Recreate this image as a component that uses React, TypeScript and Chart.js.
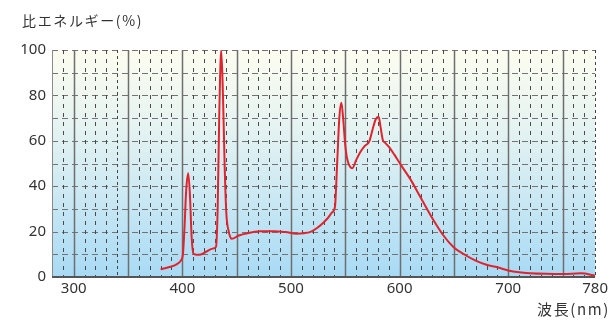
import { useEffect, useRef } from "react";
import { Chart, registerables } from "chart.js";

Chart.register(...registerables);

// ---- data ----
const wavelengths = [380, 389, 395, 398.5, 400.5, 402, 403.5, 405.4, 407, 408.5, 410.2, 413, 417, 422, 428, 431, 432.5, 434, 435.8, 437.5, 439, 440.5, 442.5, 445.6, 452, 460, 472, 485, 495, 505, 512, 518, 524, 529, 534, 538, 540.5, 542.5, 544.5, 546.4, 548, 550, 552, 556.5, 560, 564, 568, 572, 575.8, 578, 580.7, 582.5, 584.5, 587, 590, 595, 601, 610, 620, 630, 640, 650, 660, 670, 680, 690, 700, 710, 720, 735, 750, 767, 780];
const energy = [3.4, 4.5, 5.7, 7.2, 10, 22, 38, 45.7, 36, 18, 10.3, 9.8, 9.9, 11.2, 12.5, 13.3, 30, 72, 100, 78, 48, 28, 20.5, 16.8, 18.3, 19.3, 20.1, 20.2, 19.8, 19.1, 19.3, 19.9, 21.6, 23.6, 26, 28.5, 31, 50, 70, 76.8, 70, 58, 51.5, 47.9, 51.5, 55.2, 57.8, 59.6, 66.2, 69.5, 70.6, 66, 60.5, 59, 57.4, 54, 49.5, 43, 34.5, 26, 18.5, 13, 9.8, 7.2, 5.4, 4.3, 2.9, 2.1, 1.7, 1.4, 1.3, 1.6, 0.6];
const xTickLabels = [300, 400, 500, 600, 700, 780];
const yTickLabels = [0, 20, 40, 60, 80, 100];
const xMin = 280;
const xMax = 780;
const yMin = 0;
const yMax = 100;
const yTitle = "比エネルギー(%)";
const xTitle = "波長(nm)";

function drawFitted(ctx: any, text: string, x: number, y: number, width: number, align: "left" | "right") {
  ctx.letterSpacing = "0px";
  const w = ctx.measureText(text).width;
  const n = Array.from(text).length;
  const sp = (width - w) / n;
  ctx.letterSpacing = sp.toFixed(2) + "px";
  ctx.textAlign = "left";
  const x0 = align === "left" ? x : x - width;
  ctx.fillText(text, x0, y);
  ctx.letterSpacing = "0px";
}

const gridPlugin = {
  id: "bgGrid",
  beforeDatasetsDraw(chart: any) {
    const { ctx, chartArea: a, scales } = chart;
    const xs = scales.x;
    const ys = scales.y;
    ctx.save();
    const g = ctx.createLinearGradient(0, a.top, 0, a.bottom);
    g.addColorStop(0, "#fdfdf0");
    g.addColorStop(0.3, "#e8f4f1");
    g.addColorStop(0.6, "#cfeaf3");
    g.addColorStop(1, "#a8daf5");
    ctx.fillStyle = g;
    ctx.fillRect(a.left, a.top, a.right - a.left, a.bottom - a.top);

    ctx.lineWidth = 1;
    ctx.strokeStyle = "#737373";
    ctx.setLineDash([6, 4]);
    for (let v = yMin + 10; v <= yMax; v += 10) {
      const y = Math.round(ys.getPixelForValue(v)) + 0.5;
      ctx.beginPath();
      ctx.moveTo(a.left, y);
      ctx.lineTo(a.right, y);
      ctx.stroke();
    }
    for (let v = xMin + 10; v <= xMax; v += 10) {
      const x = Math.round(xs.getPixelForValue(v)) + 0.5;
      ctx.beginPath();
      if (v % 50 === 0 && v !== xMax) {
        ctx.setLineDash([]);
        ctx.strokeStyle = "#6e6e6e";
        ctx.lineWidth = 1.5;
      } else if (v === 340 || v === xMax) {
        ctx.setLineDash([3, 3]);
        ctx.strokeStyle = "#444";
        ctx.lineWidth = 1;
      } else {
        ctx.setLineDash([4, 5]);
        ctx.strokeStyle = "#4a4a4a";
        ctx.lineWidth = 1;
      }
      ctx.moveTo(x, a.top);
      ctx.lineTo(x, a.bottom);
      ctx.stroke();
    }
    ctx.setLineDash([]);
    ctx.strokeStyle = "#8a8a8a";
    ctx.lineWidth = 1;
    ctx.beginPath();
    ctx.moveTo(a.left + 0.5, a.top);
    ctx.lineTo(a.left + 0.5, a.bottom);
    ctx.stroke();
    ctx.strokeStyle = "#555";
    ctx.lineWidth = 2;
    ctx.beginPath();
    ctx.moveTo(a.left, a.bottom);
    ctx.lineTo(a.right, a.bottom);
    ctx.stroke();
    ctx.restore();
  },
  afterDraw(chart: any) {
    const { ctx } = chart;
    ctx.save();
    ctx.fillStyle = "#333";
    ctx.textBaseline = "middle";
    ctx.font = '14px "Noto Sans CJK JP"';
    drawFitted(ctx, yTitle, 22, 21, 121, "left");
    ctx.font = '15px "Noto Sans CJK JP"';
    drawFitted(ctx, xTitle, 610, 309, 73, "right");
    ctx.restore();
  },
};

export default function App() {
  const ref = useRef<HTMLCanvasElement>(null);
  useEffect(() => {
    if (!ref.current) return;
    const tickFont = { family: '"Noto Sans", sans-serif', size: 15 };
    const chart = new Chart(ref.current, {
      type: "line",
      data: {
        datasets: [
          {
            data: wavelengths.map((x, i) => ({ x, y: energy[i] })),
            borderColor: "#e1232d",
            borderWidth: 2,
            pointRadius: 0,
            fill: false,
            cubicInterpolationMode: "monotone",
          },
        ],
      },
      options: {
        animation: false,
        responsive: false,
        devicePixelRatio: 1,
        layout: { padding: { top: 50, right: 15, left: 0, bottom: 0 } },
        plugins: { legend: { display: false }, tooltip: { enabled: false }, title: { display: false } },
        scales: {
          x: {
            type: "linear",
            min: xMin,
            max: xMax,
            afterBuildTicks: (s: any) => {
              s.ticks = xTickLabels.map((v) => ({ value: v }));
            },
            afterFit: (s: any) => {
              s.height = 43;
            },
            ticks: { color: "#333", font: tickFont, padding: 3, maxRotation: 0, autoSkip: false },
            grid: { display: false, drawTicks: false },
            border: { display: false },
          },
          y: {
            type: "linear",
            min: yMin,
            max: yMax,
            afterBuildTicks: (s: any) => {
              s.ticks = yTickLabels.map((v) => ({ value: v }));
            },
            afterFit: (s: any) => {
              s.width = 52;
            },
            ticks: { color: "#333", font: tickFont, padding: 6, autoSkip: false },
            grid: { display: false, drawTicks: false },
            border: { display: false },
          },
        },
      },
      plugins: [gridPlugin],
    } as any);
    return () => chart.destroy();
  }, []);
  return (
    <div style={{ position: "absolute", left: 0, top: 0, width: 611, height: 320, background: "#fff" }}>
      <canvas ref={ref} width={611} height={320} style={{ display: "block" }} />
    </div>
  );
}
